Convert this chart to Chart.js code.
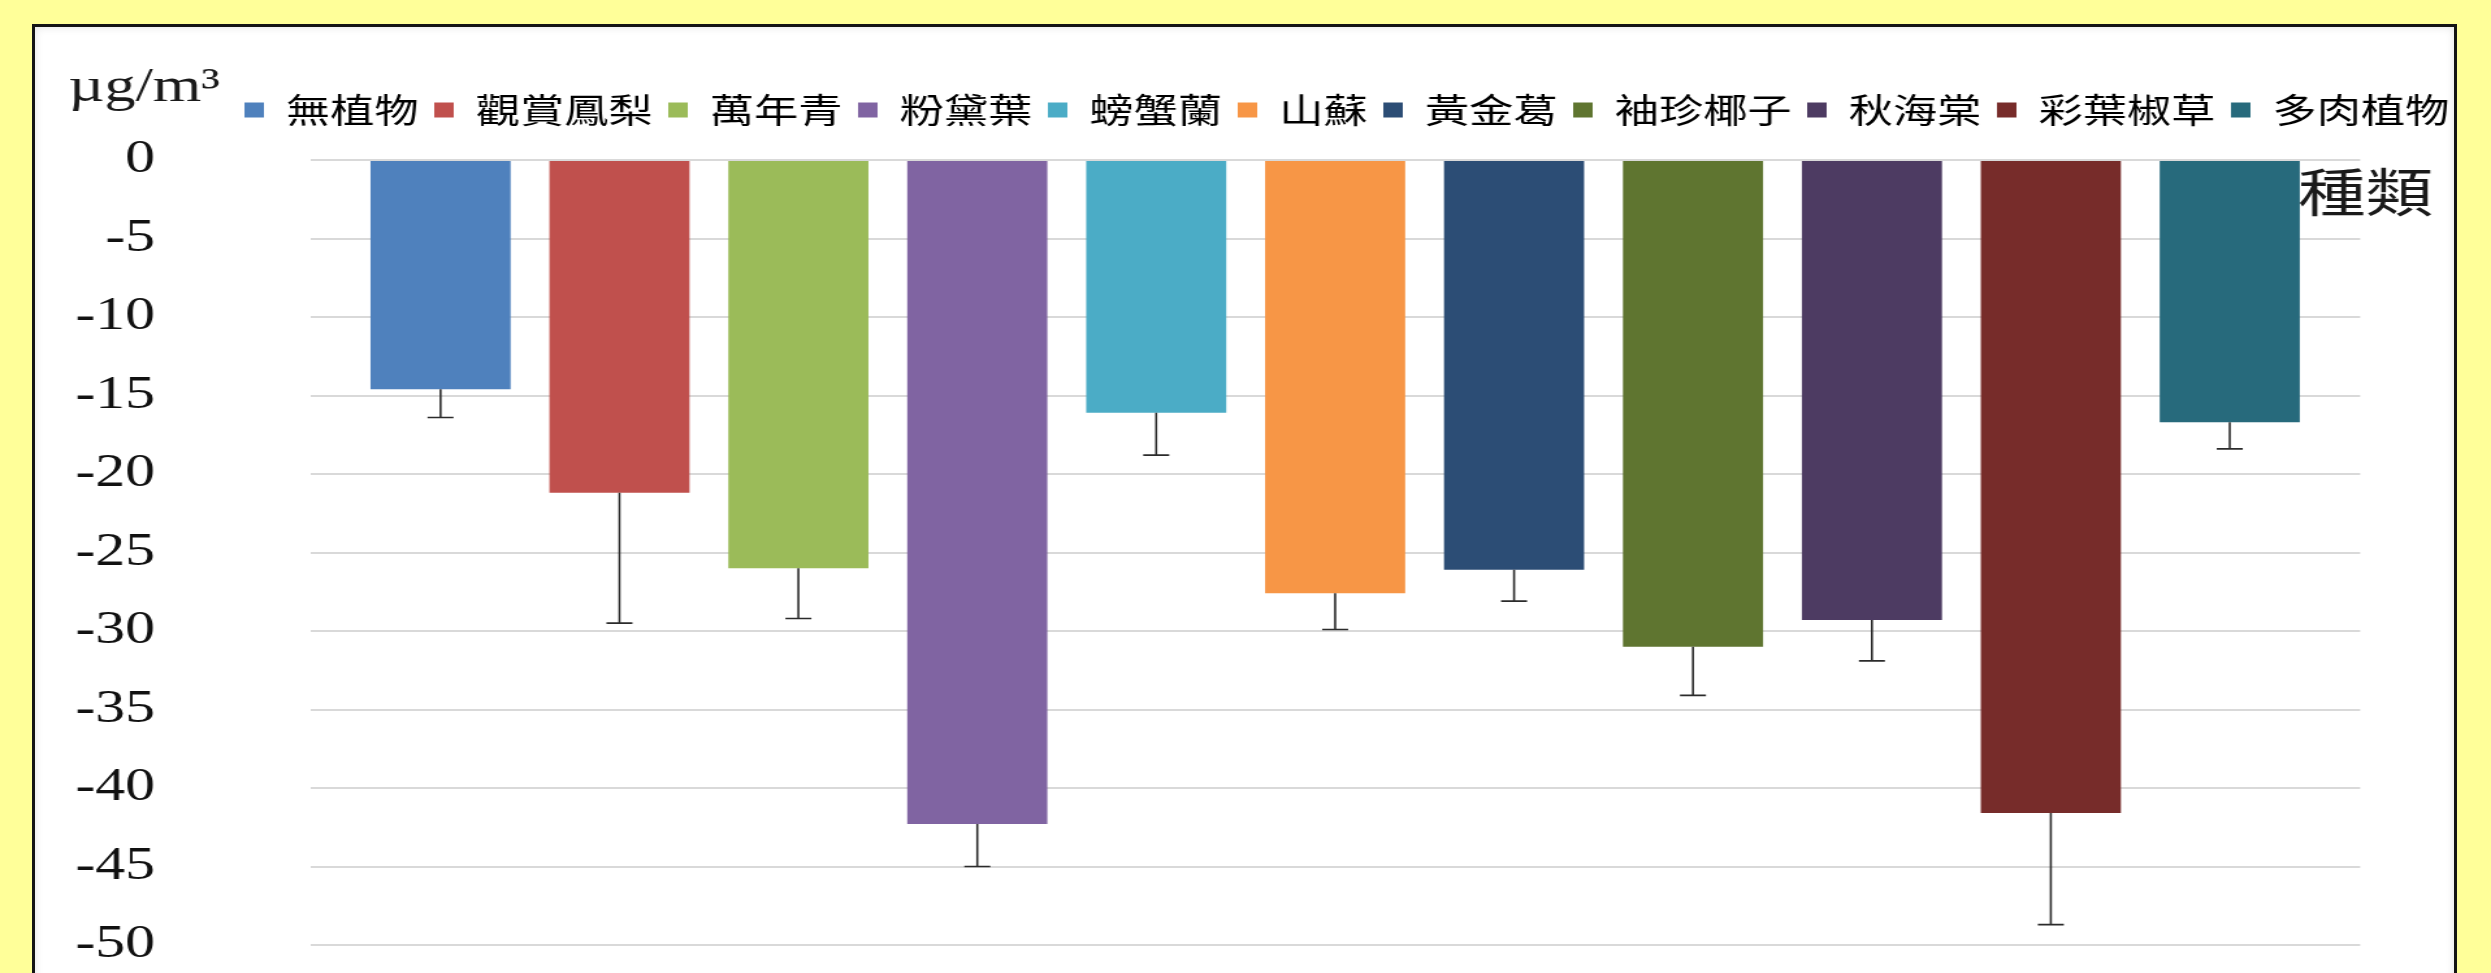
<!DOCTYPE html>
<html>
<head>
<meta charset="utf-8">
<script src="https://cdn.jsdelivr.net/npm/chart.js@4.4.1/dist/chart.umd.min.js"></script>
<style>
  html, body { margin: 0; padding: 0; width: 2491px; height: 973px; overflow: hidden; background: #FFFF99; }
  #frame {
    position: absolute; left: 32px; top: 24px; width: 2419px; height: 1000px;
    border: 3px solid #141414; background: #fff;
    box-shadow: inset 0 0 8px rgba(0, 0, 0, 0.12);
  }
  /* the chart is laid out on a narrower canvas and widened horizontally */
  #stretch { position: absolute; left: 0; top: 0; width: 1916px; height: 973px; transform: scaleX(1.3001); transform-origin: 0 0; }
  canvas { display: block; }
</style>
</head>
<body>
<div id="frame"></div>
<div id="stretch"><canvas id="c" width="1916" height="973"></canvas></div>
<script>
// Plant types (one series each)
const plantNames = ['無植物', '觀賞鳳梨', '萬年青', '粉黛葉', '螃蟹蘭', '山蘇', '黃金葛', '袖珍椰子', '秋海棠', '彩葉椒草', '多肉植物'];
// Mean change in concentration (µg/m³)
const meanChange = [-14.6, -21.2, -26.0, -42.3, -16.1, -27.6, -26.1, -31.0, -29.3, -41.6, -16.7];
// Error bar length (drawn downward from each bar end)
const errorSize = [1.8, 8.3, 3.2, 2.7, 2.7, 2.3, 2.0, 3.1, 2.6, 7.1, 1.7];
const seriesColors = ['#4F81BD', '#C0504D', '#9BBB59', '#8064A2', '#4BACC6', '#F79646',
                      '#2C4D75', '#5F7530', '#4D3B62', '#772C2A', '#276A7C'];
// Value axis range and tick step
const yMin = -50, yMax = 0, yStep = 5;
const unitLabel = 'µg/m³';
const categoryTitle = '種類';

const errorBars = {
  id: 'errorBars',
  afterDatasetsDraw(chart) {
    const { ctx, scales: { y } } = chart;
    ctx.save();
    ctx.strokeStyle = '#2b2b2b';
    ctx.lineWidth = 1.6;
    chart.data.datasets.forEach((ds, i) => {
      const bar = chart.getDatasetMeta(i).data[0];
      const v = ds.data[0];
      const y0 = y.getPixelForValue(v);
      const y1 = y.getPixelForValue(v - errorSize[i]);
      ctx.beginPath();
      ctx.moveTo(bar.x, y0);
      ctx.lineTo(bar.x, y1);
      ctx.moveTo(bar.x - 10, y1);
      ctx.lineTo(bar.x + 10, y1);
      ctx.stroke();
    });
    ctx.restore();
  }
};

const axisCaptions = {
  id: 'axisCaptions',
  afterDraw(chart) {
    const { ctx, chartArea } = chart;
    ctx.save();
    ctx.fillStyle = '#1a1a1a';
    ctx.textAlign = 'left';
    ctx.textBaseline = 'alphabetic';
    ctx.font = '48px "Liberation Serif"';
    ctx.fillText(unitLabel, chartArea.left - 186, chartArea.top - 59);
    ctx.font = '52px "Noto Sans CJK TC"';
    ctx.textBaseline = 'middle';
    ctx.fillText(categoryTitle, chartArea.right - 48, chartArea.top + 32);
    ctx.restore();
  }
};

new Chart(document.getElementById('c'), {
  type: 'bar',
  data: {
    labels: [''],
    datasets: plantNames.map((name, i) => ({
      label: name,
      data: [meanChange[i]],
      backgroundColor: seriesColors[i],
      borderWidth: 0,
      categoryPercentage: 0.96,
      barPercentage: 0.783
    }))
  },
  options: {
    responsive: false,
    animation: false,
    devicePixelRatio: 1,
    layout: { padding: { left: 40, right: 20, top: 81, bottom: 28 } },
    plugins: {
      legend: {
        display: true,
        position: 'top',
        align: 'end',
        labels: {
          font: { family: '"Noto Sans CJK TC"', size: 34 },
          color: '#000',
          boxWidth: 15,
          boxHeight: 15,
          padding: 12
        }
      },
      tooltip: { enabled: false }
    },
    scales: {
      x: {
        position: 'top',
        grid: { display: false },
        border: { display: false },
        ticks: { display: false },
        afterFit(s) { s.height = 23; }
      },
      y: {
        min: yMin,
        max: yMax,
        position: 'left',
        grid: { color: '#d9d9d9', lineWidth: 2, drawTicks: false },
        border: { display: false },
        ticks: {
          stepSize: yStep,
          autoSkip: false,
          padding: 119.3,
          color: '#111',
          font: { family: '"Liberation Serif"', size: 46 }
        },
        afterFit(s) {
          s.width = 198.5;
          s.paddingTop = 0;
          s.paddingBottom = 0;
        }
      },
      yRight: {
        type: 'linear',
        position: 'right',
        display: true,
        grid: { display: false, drawTicks: false },
        border: { display: false },
        ticks: { display: false },
        afterFit(s) { s.width = 80.6; }
      }
    }
  },
  plugins: [errorBars, axisCaptions]
});
</script>
</body>
</html>
